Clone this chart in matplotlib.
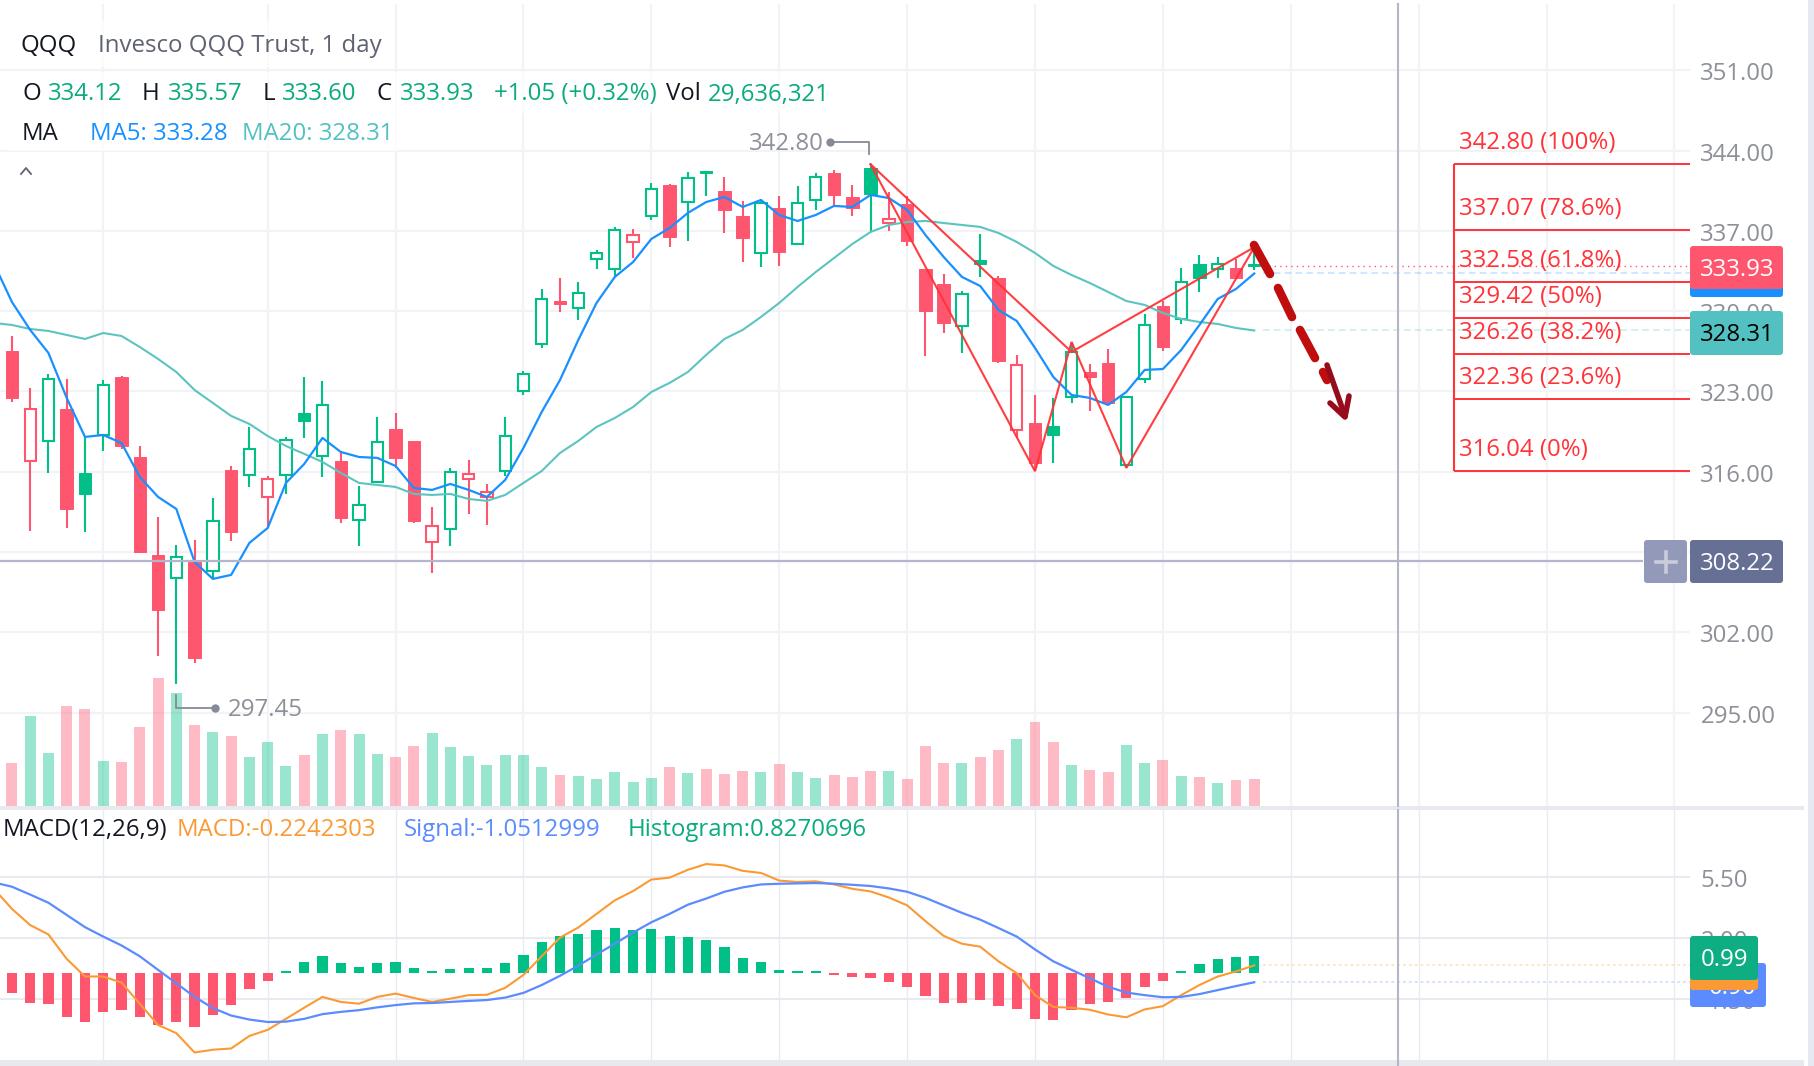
import matplotlib
matplotlib.use("Agg")
import matplotlib.pyplot as plt
from matplotlib.patches import FancyBboxPatch, Rectangle
from matplotlib.transforms import ScaledTranslation
import numpy as np

plt.rcParams['font.family'] = ['Open Sans', 'DejaVu Sans']

opens = [326.52,316.94,318.68,321.47,315.89,319.20,324.26,317.28,308.74,306.73,308.13,307.35,316.15,315.71,313.80,315.71,321.12,317.37,316.94,311.79,315.10,319.72,318.68,309.87,311.01,315.37,313.80,316.06,323.04,327.14,330.88,330.27,334.55,333.67,336.03,338.29,341.00,339.51,342.22,340.47,338.29,335.07,339.00,335.85,339.69,342.04,339.95,342.48,337.68,339.34,333.67,332.37,328.70,334.46,332.89,319.64,320.25,319.99,322.51,324.69,325.48,316.59,324.08,330.45,329.32,334.11,333.67,333.76,334.12]
highs = [327.83,323.30,324.52,324.08,319.03,323.99,324.35,318.24,312.05,309.61,310.05,313.71,316.50,319.90,315.63,319.03,324.26,323.91,317.72,314.75,320.77,321.12,318.68,312.92,316.33,317.02,314.93,320.77,324.78,331.93,332.89,332.54,335.33,337.34,337.16,341.17,341.08,342.13,342.22,341.70,339.60,339.69,340.04,340.91,342.04,342.30,341.00,342.80,340.39,340.04,333.67,333.24,331.76,336.72,333.06,326.18,322.69,322.43,327.31,325.39,326.70,322.51,329.75,330.88,333.76,334.89,334.72,334.55,335.57]
lows = [322.08,310.83,315.89,311.09,310.74,317.81,317.98,308.92,299.94,297.45,299.32,306.73,309.96,314.67,311.09,314.06,318.94,315.54,311.53,309.52,315.10,316.33,311.53,307.17,309.52,312.31,311.36,315.63,322.69,326.79,329.93,329.23,333.67,332.98,334.63,337.95,335.59,336.11,340.04,336.81,334.28,333.85,333.94,335.85,338.82,339.08,338.29,336.90,336.99,335.68,326.09,328.09,326.35,332.98,325.48,318.94,316.04,316.76,321.99,321.29,321.82,316.33,323.74,326.52,328.88,331.67,332.89,332.80,333.60]
closes = [322.43,321.47,324.08,312.75,314.06,323.56,318.24,309.00,303.95,308.57,299.76,311.70,310.74,317.98,315.37,318.77,320.42,321.82,311.97,313.10,318.59,317.20,311.70,311.27,315.97,315.80,314.23,319.11,324.52,331.06,330.62,331.58,335.07,337.07,336.64,340.65,336.46,341.61,342.04,338.82,336.37,339.43,335.16,339.43,341.70,340.13,339.00,340.21,338.03,336.11,330.01,328.96,331.49,334.11,325.65,325.30,316.76,319.20,326.44,324.26,321.99,322.51,328.79,326.87,332.54,332.89,334.11,332.88,333.93]
volumes_m = [47.3,99,58.3,110,106.7,49.5,48.4,86.9,140.8,124.3,89.1,81.4,77,53.9,70.4,44,56.1,79.2,83.6,79.2,57.2,53.9,66,80.3,64.9,55,45.1,56.1,56.1,42.9,34.1,33,29.7,37.4,26.4,30.8,42.9,36.3,40.7,35.2,38.5,37.4,46.2,37.4,30.8,34.1,31.9,38.5,38.5,29.7,66,47.3,47.3,53.9,61.6,73.7,92.4,70.4,45.1,39.6,37.4,67.1,47.3,50.6,33,31.9,25.3,28.6,29.6]
# moving averages start one bar left of the visible range
ma5 = [334.20,330.80,328.36,326.35,322.43,319.03,319.20,318.50,315.54,313.80,312.75,308.13,306.65,307.00,309.79,311.09,315.02,316.67,318.94,317.72,317.28,317.20,316.50,314.58,314.41,314.93,314.41,313.80,315.28,318.07,321.21,323.99,327.48,330.71,332.98,334.28,336.29,337.25,338.56,339.51,339.95,339.08,339.69,338.38,337.86,338.38,339.17,339.08,340.13,339.86,338.82,336.64,334.72,332.98,332.19,330.10,329.14,326.79,324.26,322.69,322.43,321.82,322.95,324.87,324.95,326.61,328.79,331.06,331.93,333.28]
ma20 = [328.97,328.79,328.44,328.27,327.92,327.57,328.09,327.83,326.87,325.83,324.69,323.12,321.99,320.86,320.16,319.11,318.24,317.55,316.85,315.89,315.02,314.84,314.67,314.06,313.97,314.06,313.62,313.45,313.97,315.02,316.06,317.63,318.68,319.90,320.68,321.64,322.95,323.74,324.69,326.18,327.57,328.36,329.49,330.71,332.10,333.41,334.63,335.85,336.90,337.51,337.77,337.86,337.68,337.51,337.34,336.81,336.03,335.07,333.94,333.15,332.45,331.67,330.88,330.54,329.84,329.32,329.05,328.88,328.53,328.31]
hist = [-1.15,-1.73,-1.79,-2.55,-2.84,-2.26,-2.14,-2.55,-3.01,-2.84,-3.13,-2.43,-1.85,-0.91,-0.45,0.12,0.64,0.99,0.58,0.35,0.58,0.64,0.29,0.12,0.23,0.29,0.29,0.58,1.05,1.75,2.10,2.22,2.45,2.57,2.45,2.51,2.10,2.04,1.87,1.46,0.87,0.64,0.17,0.12,0.12,-0.12,-0.23,-0.29,-0.52,-0.82,-1.34,-1.75,-1.75,-1.57,-1.92,-2.10,-2.62,-2.68,-2.16,-1.81,-1.69,-1.46,-0.82,-0.47,0.12,0.52,0.82,0.93,0.99]
macd = [4.84,3.67,2.74,2.20,0.80,-0.21,-0.21,-0.56,-1.77,-2.99,-3.46,-4.57,-4.41,-4.34,-3.62,-3.27,-2.64,-2.00,-1.38,-1.67,-1.77,-1.38,-1.19,-1.44,-1.67,-1.48,-1.28,-1.26,-0.86,-0.12,0.95,2.02,2.60,3.38,4.16,4.69,5.35,5.46,5.91,6.24,6.16,5.85,5.73,5.29,5.21,5.25,5.07,4.82,4.67,4.32,3.87,2.97,2.12,1.67,1.50,0.66,-0.02,-1.28,-1.96,-2.00,-2.12,-2.39,-2.55,-2.10,-1.91,-1.28,-0.70,-0.21,0.08,0.43]
signal = [5.19,4.94,4.49,4.02,3.32,2.62,2.08,1.57,0.95,0.17,-0.60,-1.38,-2.02,-2.45,-2.68,-2.82,-2.80,-2.64,-2.37,-2.24,-2.14,-1.98,-1.85,-1.75,-1.73,-1.67,-1.61,-1.56,-1.42,-1.15,-0.70,-0.17,0.41,1.05,1.67,2.31,2.90,3.38,3.91,4.26,4.65,4.90,5.07,5.11,5.13,5.15,5.11,5.05,4.98,4.84,4.65,4.30,3.87,3.44,3.05,2.57,2.08,1.34,0.66,0.17,-0.31,-0.80,-1.13,-1.28,-1.40,-1.38,-1.22,-0.99,-0.76,-0.54]
price_ticks = [351, 344, 337, 330, 323, 316, 309, 302, 295]
price_tick_labels = ['351.00', '344.00', '337.00', '330.00', '323.00', '316.00', '309.00', '302.00', '295.00']
macd_ticks = [5.5, 2.0, -1.5]
macd_tick_labels = ['5.50', '2.00', '-1.50']
grid_bars = [5, 14, 21, 28, 35, 42, 49, 56, 63, 70, 77, 84, 91]
fib_levels = [342.80, 337.07, 332.58, 329.42, 326.26, 322.36, 316.04]
fib_labels = ['342.80 (100%)', '337.07 (78.6%)', '332.58 (61.8%)', '329.42 (50%)', '326.26 (38.2%)', '322.36 (23.6%)', '316.04 (0%)']
pattern_x = [47, 56, 58, 61, 68, 58, 47]
pattern_y = [342.80, 316.04, 327.31, 316.33, 335.57, 326.44, 342.80]

W, H = 1814, 1066
UP, DOWN = '#00c087', '#ff5670'
C5, C20 = '#1890ff', '#5cc4c0'
CM, CS, FIB = '#fb9a35', '#5b8bff', '#ff3338'
GRID, TICK = '#f2f3f7', '#8d9099'
FS = 17.25

fig = plt.figure(figsize=(W / 100, H / 100), dpi=100, facecolor='white')
def px_axes(x0, y0, x1, y1, **kw):
    return fig.add_axes([x0 / W, 1 - y1 / H, (x1 - x0) / W, (y1 - y0) / H], **kw)

xmin, xmax = -0.651, 91.85
ax = px_axes(0, 4, 1690, 806)
vax = px_axes(0, 4, 1690, 806, sharex=ax)
max_ = px_axes(0, 810, 1690, 1060, sharex=ax)
ov = fig.add_axes([0, 0, 1, 1], zorder=10)
ov.set_xlim(0, W); ov.set_ylim(H, 0); ov.axis('off')

ax.set_zorder(2); vax.set_zorder(1); max_.set_zorder(1)
ax.patch.set_alpha(0)

x = np.arange(len(closes))
xl = np.arange(-1, len(ma5) - 1)
is_up_bar = np.array(closes) >= np.array(opens)

# ---- price panel
ax.set_xlim(xmin, xmax)
ax.set_ylim(286.85 + 0, 357.125 - 0.08718 * 4)
for a in (ax, vax, max_):
    for s in a.spines.values():
        s.set_visible(False)
    a.set_xticks(grid_bars)
    a.tick_params(axis='x', length=0, labelbottom=False)
ax.yaxis.tick_right()
ax.set_yticks(price_ticks, price_tick_labels, fontsize=FS, color=TICK)
ax.tick_params(axis='y', length=0, pad=7.5)
for lab in ax.get_yticklabels():
    lab.set_transform(lab.get_transform() + ScaledTranslation(0, -0.8 / 72, fig.dpi_scale_trans))

# volume behind, grid there too
vax.set_ylim(0, 802 * 1.1)
vax.set_yticks([])
vax.grid(False)
for g in grid_bars:
    vax.axvline(g, color=GRID, lw=1.6, zorder=0)
for p in price_ticks:
    vax.axhline((p - 286.85) / (357.125 - 0.08718 * 4 - 286.85) * 802 * 1.1, color=GRID, lw=1.6, zorder=0)
vax.bar(x, volumes_m, width=0.6, color=[UP if u else DOWN for u in is_up_bar], alpha=0.4, lw=0, zorder=2)

for i in range(len(x)):
    prev = closes[i - 1] if i else opens[i]
    col = UP if closes[i] >= prev else DOWN
    top, bot = max(opens[i], closes[i]), min(opens[i], closes[i])
    ax.vlines(i, lows[i], highs[i], color=col, lw=1.5, zorder=3)
    if is_up_bar[i]:
        ax.bar(i, top - bot, bottom=bot, width=0.62, facecolor='white', edgecolor=col, lw=1.5, zorder=4)
    else:
        ax.bar(i, top - bot, bottom=bot, width=0.68, facecolor=col, edgecolor=col, lw=0.7, zorder=4)

ax.plot(xl, ma20, color=C20, lw=1.5, zorder=5)
ax.plot(xl, ma5, color=C5, lw=1.6, zorder=6)
ax.plot(pattern_x, pattern_y, color=FIB, lw=1.5, alpha=0.95, zorder=7, solid_joinstyle='miter')

# last value guide lines
ax.hlines(closes[-1], 68.5, xmax, color=DOWN, lw=1, ls=(0, (1, 3)), zorder=2)
ax.hlines(ma5[-1], 68.5, xmax, color=C5, lw=1.2, alpha=0.25, ls=(0, (4, 2.5)), zorder=2)
ax.hlines(ma20[-1], 68.5, xmax, color=C20, lw=1.2, alpha=0.3, ls=(0, (4, 2.5)), zorder=2)

# crosshair horizontal
ax.hlines(308.22, xmin, 89.3, color='#b3b6cb', lw=1.6, zorder=8)

# fibonacci
fib_x0 = 78.93
ax.vlines(fib_x0, fib_levels[-1], fib_levels[0], color=FIB, lw=1.5, zorder=7)
for lv, lab in zip(fib_levels, fib_labels):
    ax.hlines(lv, fib_x0, xmax, color=FIB, lw=1.4, zorder=7)
    ax.annotate(lab, (fib_x0, lv), xytext=(3.4, 15.0), textcoords='offset points', color=FIB,
                fontsize=FS, va='center', ha='left', zorder=9)

# ---- MACD panel
max_.set_xlim(xmin, xmax)
max_.set_ylim(-5.0, 9.34)
max_.yaxis.tick_right()
max_.set_yticks(macd_ticks, macd_tick_labels, fontsize=FS, color=TICK)
max_.tick_params(axis='y', length=0, pad=7.5)
for lab in max_.get_yticklabels():
    lab.set_transform(lab.get_transform() + ScaledTranslation(0, -1.0 / 72, fig.dpi_scale_trans))
for g in grid_bars:
    max_.axvline(g, color='#eaebf0', lw=1, zorder=0)
for v in macd_ticks:
    max_.axhline(v, color='#e9eaef', lw=1.5, zorder=0)
max_.bar(x, hist, width=0.56, color=[UP if h >= 0 else DOWN for h in hist], lw=0, zorder=2)
max_.plot(xl, macd, color=CM, lw=1.5, zorder=3)
max_.plot(xl, signal, color=CS, lw=1.6, zorder=4)
max_.hlines(macd[-1], 68.5, xmax, color=CM, lw=1.4, alpha=0.25, ls=(0, (1.5, 1.5)), zorder=1)
max_.hlines(signal[-1], 68.5, xmax, color=CS, lw=1.4, alpha=0.25, ls=(0, (1.5, 1.5)), zorder=1)

# ---- overlay furniture
ov.add_patch(Rectangle((0, 806), 1804, 4, color='#e7e9ef', lw=0))
ov.add_patch(Rectangle((0, 1060), 1804, 6, color='#e7e9ef', lw=0))
ov.add_patch(Rectangle((1808, 0), 6, H, color='#e7e9f0', lw=0))
ov.plot([1398, 1398], [4, 806], color='#b3b6c6', lw=1.5, zorder=1)
ov.plot([1398, 1398], [810, 1060], color='#b3b6c6', lw=1.5, zorder=1)
ov.plot([1398, 1398], [1061, 1066], color='#b3b6c6', lw=1.5, zorder=1)

tag_z = [3]
def tag(x0, y0, x1, y1, col, txt=None, tc='white', cy=None, cx=None):
    tag_z[0] += 2
    ov.add_patch(FancyBboxPatch((x0, y0), x1 - x0, y1 - y0, boxstyle='round,pad=0,rounding_size=3',
                                fc=col, ec='none', mutation_aspect=1, zorder=tag_z[0]))
    if txt:
        ov.text(cx if cx else 1700, (cy if cy else (y0 + y1) / 2) + 2, txt, color=tc, fontsize=FS, va='center',
                ha='center' if cx else 'left', zorder=tag_z[0] + 1)

tag(1690, 250, 1783, 297, C5)
tag(1690, 246, 1783, 289, DOWN, '333.93')
tag(1690, 311, 1783, 355, '#53c1c1', '328.31', tc='black')
tag(1644, 540, 1687, 583, '#9399b8')
ov.plot([1656, 1676], [562, 562], color='#c9ccdb', lw=2.6, zorder=30)
ov.plot([1666, 1666], [552, 572], color='#c9ccdb', lw=2.6, zorder=30)
tag(1690, 540, 1783, 583, '#666f94', '308.22')

tag(1690, 963, 1766, 1007, CS, '0.90', cx=1732, cy=986)
tag(1690, 946, 1758, 990, CM)
tag(1690, 936, 1758, 980, '#0fae82', '0.99', cx=1724)

# header masks
for r in [(8, 20, 385, 47), (8, 72, 835, 41), (8, 113, 398, 38)]:
    ov.add_patch(Rectangle((r[0], r[1]), r[2] - r[0], r[3], fc='white', alpha=0.75, lw=0, zorder=1))

GT = '#0aab7e'
DK = '#131722'
def t(xp, yp, s, c):
    ov.text(xp, yp + 2.5, s, color=c, fontsize=FS, va='center', ha='left', zorder=5)
t(20, 44, 'QQQ', DK)
t(98, 44, 'Invesco QQQ Trust, 1 day', '#5f6270')
for xp, s, c in [(22, 'O', DK), (48, '334.12', GT), (142, 'H', DK), (168, '335.57', GT), (263, 'L', DK),
                 (282, '333.60', GT), (376, 'C', DK), (400, '333.93', GT), (494, '+1.05 (+0.32%)', GT),
                 (666, 'Vol', DK), (708, '29,636,321', GT)]:
    t(xp, 92, s, c)
t(22, 132, 'MA', DK)
t(90, 132, 'MA5: 333.28', C5)
t(242, 132, 'MA20: 328.31', '#53c1c1')
ov.plot([21, 26, 31], [174, 168, 174], color='#5f6270', lw=1.3, zorder=5)
t(3, 828, 'MACD(12,26,9)', DK)
t(177, 828, 'MACD:-0.2242303', CM)
t(404, 828, 'Signal:-1.0512999', CS)
t(628, 828, 'Histogram:0.8270696', GT)

# high / low leaders
GL = '#868a96'
t(749, 142, '342.80', TICK)
ov.plot([830, 869, 869], [142, 142, 154], color=GL, lw=1.3, zorder=5)
ov.plot([830], [142], 'o', color=GL, ms=5, zorder=5)
t(228, 708, '297.45', TICK)
ov.plot([176, 176, 215], [695, 708, 708], color=GL, lw=1.3, zorder=5)
ov.plot([215], [708], 'o', color=GL, ms=5, zorder=5)

# dashed arrow
DR = '#c00d0d'
for (x0, y0, x1, y1) in [(1254, 245, 1270, 274), (1278, 288, 1292, 317), (1300, 330, 1315, 358), (1323, 372, 1327, 380)]:
    ov.plot([x0, x1], [y0, y1], color=DR, lw=6.2, solid_capstyle='round', zorder=6)
AR = '#960c1c'
ov.plot([1327, 1345], [365, 416], color=AR, lw=4, solid_capstyle='round', zorder=7)
ov.plot([1330, 1345, 1349], [403, 417, 396], color=AR, lw=4, solid_capstyle='round', solid_joinstyle='round', zorder=7)

fig.savefig('out.png', dpi=100, facecolor='white')
